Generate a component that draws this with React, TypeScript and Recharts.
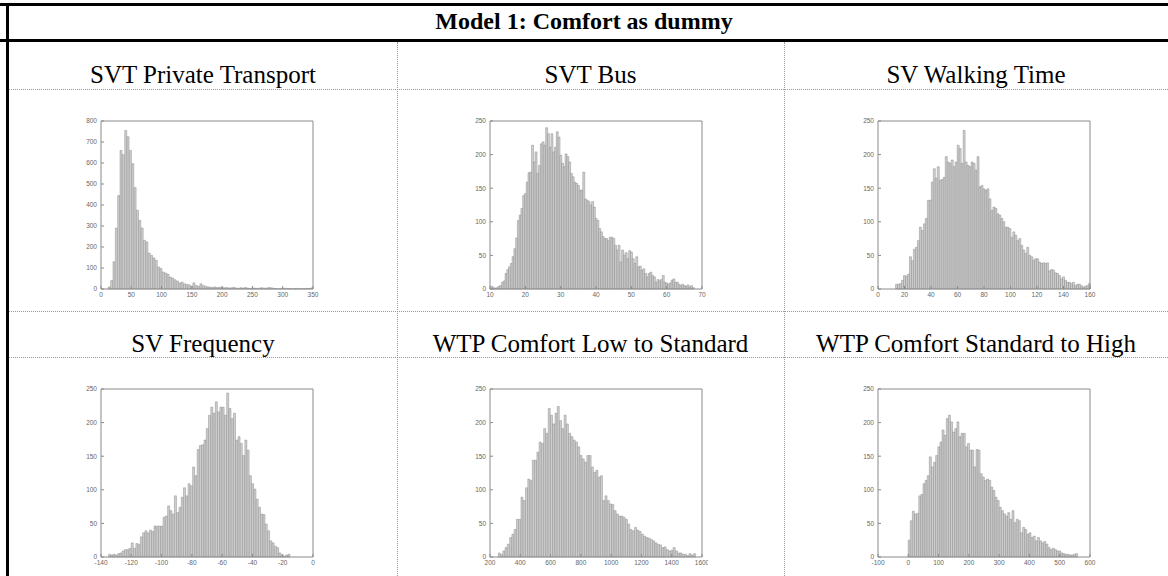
import React from 'react';
import { BarChart, Bar, XAxis, YAxis, ReferenceLine } from 'recharts';

// bin counts (bins are evenly spaced from *Start with width *Width)
const ptStart = 12;
const ptWidth = 3.88;
const ptCounts = [10, 40, 130, 290, 445, 660, 640, 755, 725, 660, 597, 483, 375, 327, 290, 232, 224, 171, 160, 148, 137, 105, 97, 81, 76, 70, 57, 52, 44, 38, 29, 33, 25, 22, 20, 14, 29, 17, 13, 25, 17, 13, 10, 9, 8, 10, 7, 8, 9, 6, 7, 5, 6, 8, 5, 4, 6, 5, 7, 4, 3, 5, 4, 3, 5, 6, 4, 5, 7, 6, 3, 2, 1, 3, 2, 4, 2, 3, 1, 2, 3, 2, 1, 2, 3, 2, 5];
const ptXTicks = [0, 50, 100, 150, 200, 250, 300, 350];
const ptYTicks = [0, 100, 200, 300, 400, 500, 600, 700, 800];

const busStart = 10.25;
const busWidth = 0.5;
const busCounts = [4, 2, 1, 2, 4, 5, 10, 12, 23, 29, 33, 38, 48, 60, 76, 102, 110, 120, 139, 142, 159, 173, 174, 214, 189, 204, 172, 184, 216, 219, 214, 240, 231, 211, 231, 204, 211, 234, 226, 199, 187, 182, 201, 197, 189, 172, 167, 159, 157, 154, 147, 147, 174, 134, 132, 130, 125, 130, 122, 105, 102, 90, 85, 78, 75, 75, 72, 77, 77, 75, 65, 58, 65, 40, 58, 50, 54, 45, 57, 55, 45, 38, 48, 33, 34, 28, 30, 23, 18, 23, 25, 20, 18, 10, 14, 12, 14, 20, 10, 9, 7, 9, 13, 15, 10, 10, 7, 5, 7, 5, 4, 6, 3, 5, 2];
const busXTicks = [10, 20, 30, 40, 50, 60, 70];
const busYTicks = [0, 50, 100, 150, 200, 250];

const walkStart = 13.25;
const walkWidth = 1.5;
const walkCounts = [7, 7, 8, 13, 20, 19, 22, 48, 42, 59, 62, 72, 92, 87, 97, 105, 132, 132, 159, 179, 165, 182, 162, 163, 166, 197, 189, 187, 192, 182, 189, 214, 209, 187, 236, 189, 184, 182, 189, 187, 177, 197, 152, 154, 149, 147, 149, 134, 117, 122, 120, 112, 110, 105, 100, 92, 92, 90, 77, 85, 80, 72, 75, 65, 58, 53, 62, 50, 48, 43, 45, 45, 40, 38, 39, 38, 39, 27, 29, 28, 24, 23, 20, 15, 18, 13, 10, 10, 8, 10, 5, 7, 7, 5, 3, 4, 5, 8];
const walkXTicks = [0, 20, 40, 60, 80, 100, 120, 140, 160];
const walkYTicks = [0, 50, 100, 150, 200, 250];

const freqStart = -135;
const freqWidth = 1.5;
const freqCounts = [4, 3, 4, 3, 5, 6, 9, 11, 11, 13, 21, 13, 20, 19, 30, 36, 39, 36, 40, 38, 46, 46, 46, 46, 59, 61, 76, 69, 64, 91, 66, 74, 89, 103, 91, 109, 106, 134, 121, 160, 166, 167, 174, 191, 211, 223, 214, 231, 216, 223, 223, 211, 244, 221, 206, 214, 174, 179, 169, 151, 174, 159, 121, 109, 101, 86, 74, 64, 63, 49, 39, 24, 21, 16, 14, 6, 3, 1, 3, 4];
const freqXTicks = [-140, -120, -100, -80, -60, -40, -20, 0];
const freqYTicks = [0, 50, 100, 150, 200, 250];

const lowStart = 254.5;
const lowWidth = 15;
const lowCounts = [6, 4, 9, 14, 19, 29, 34, 41, 56, 56, 89, 84, 103, 116, 114, 144, 144, 156, 171, 169, 191, 184, 221, 211, 198, 214, 224, 203, 191, 211, 198, 184, 179, 174, 171, 164, 151, 146, 141, 151, 151, 134, 126, 129, 119, 121, 84, 91, 84, 79, 78, 69, 64, 61, 61, 59, 56, 49, 41, 39, 44, 40, 38, 34, 31, 29, 28, 26, 24, 21, 19, 18, 14, 15, 11, 9, 10, 14, 9, 6, 6, 4, 4, 2, 5, 3, 5];
const lowXTicks = [200, 400, 600, 800, 1000, 1200, 1400, 1600];
const lowYTicks = [0, 50, 100, 150, 200, 250];

const highStart = -0.5;
const highWidth = 7;
const highCounts = [25, 54, 68, 64, 65, 91, 93, 109, 114, 121, 149, 134, 141, 151, 164, 171, 189, 181, 206, 211, 201, 186, 191, 201, 179, 184, 184, 164, 169, 159, 159, 134, 160, 159, 124, 119, 114, 116, 114, 104, 99, 89, 84, 74, 69, 64, 61, 66, 56, 69, 51, 56, 54, 36, 44, 41, 34, 36, 29, 31, 24, 29, 24, 21, 23, 19, 14, 11, 13, 11, 9, 9, 6, 5, 4, 4, 3, 3, 4, 5];
const highXTicks = [-100, 0, 100, 200, 300, 400, 500, 600];
const highYTicks = [0, 50, 100, 150, 200, 250];

const PLOT_W = 212;
const PLOT_H = 168;
const Y_AXIS_W = 30;
const X_AXIS_H = 14;
const M_TOP = 4;
const M_RIGHT = 6;
const FRAME = '#8a8a8a';

const tickStyle = { fontSize: 6.5, fill: '#666', fontFamily: '"Liberation Sans", Arial, sans-serif' };

type HistProps = {
  left: number;
  top: number;
  start: number;
  width: number;
  counts: number[];
  xTicks: number[];
  yTicks: number[];
};

function Histogram({ left, top, start, width, counts, xTicks, yTicks }: HistProps) {
  const data = counts.map((n, i) => ({ x: start + width * (i + 0.5), n }));
  const xDomain = [xTicks[0], xTicks[xTicks.length - 1]];
  const yDomain = [yTicks[0], yTicks[yTicks.length - 1]];
  return (
    <div style={{ position: 'absolute', left: left - Y_AXIS_W, top: top - M_TOP }}>
      <BarChart
        width={PLOT_W + Y_AXIS_W + M_RIGHT}
        height={PLOT_H + M_TOP + X_AXIS_H}
        data={data}
        margin={{ top: M_TOP, right: M_RIGHT, left: 0, bottom: 0 }}
        barCategoryGap={0}
        barGap={0}
      >
        <XAxis dataKey="x" type="number" domain={xDomain} ticks={xTicks} interval={0}
          height={X_AXIS_H} tickSize={-3} tickMargin={6} stroke={FRAME} tick={tickStyle} />
        <YAxis type="number" domain={yDomain} ticks={yTicks} interval={0}
          width={Y_AXIS_W} tickSize={-3} tickMargin={7} stroke={FRAME} tick={tickStyle} />
        <Bar dataKey="n" fill="#cfcfcf" stroke="#7a7a7a" strokeWidth={0.4} isAnimationActive={false} />
        {/* box around the axes, like the original plots */}
        <ReferenceLine y={yDomain[1]} stroke={FRAME} />
        <ReferenceLine x={xDomain[1]} stroke={FRAME} />
      </BarChart>
    </div>
  );
}

const headStyle: React.CSSProperties = {
  position: 'absolute',
  fontSize: 25,
  textAlign: 'center',
  whiteSpace: 'nowrap',
  lineHeight: '29px',
};

export default function App() {
  const colX = [9, 397, 784, 1168];
  return (
    <div style={{
      position: 'absolute', left: 0, top: 0, width: 1168, height: 576, background: '#fff',
      overflow: 'hidden', fontFamily: '"Liberation Serif", "Times New Roman", serif', color: '#000',
    }}>
      {/* table rules */}
      <div style={{ position: 'absolute', left: 0, top: 3, width: 1168, height: 3, background: '#000' }} />
      <div style={{ position: 'absolute', left: 0, top: 39, width: 1168, height: 3, background: '#000' }} />
      <div style={{ position: 'absolute', left: 6, top: 3, width: 3, height: 573, background: '#000' }} />
      <div style={{ position: 'absolute', left: 397, top: 42, height: 534, borderLeft: '1px dotted #999' }} />
      <div style={{ position: 'absolute', left: 784, top: 42, height: 534, borderLeft: '1px dotted #999' }} />
      <div style={{ position: 'absolute', left: 9, top: 89, width: 1159, borderTop: '1px dotted #999' }} />
      <div style={{ position: 'absolute', left: 9, top: 311, width: 1159, borderTop: '1px dotted #999' }} />
      <div style={{ position: 'absolute', left: 9, top: 357, width: 1159, borderTop: '1px dotted #999' }} />

      <div style={{ ...headStyle, left: 0, width: 1168, top: 7, fontSize: 24, fontWeight: 'bold' }}>
        Model 1: Comfort as dummy
      </div>

      <div style={{ ...headStyle, left: colX[0], width: colX[1] - colX[0], top: 60 }}>SVT Private Transport</div>
      <div style={{ ...headStyle, left: colX[1], width: colX[2] - colX[1], top: 60 }}>SVT Bus</div>
      <div style={{ ...headStyle, left: colX[2], width: colX[3] - colX[2], top: 60 }}>SV Walking Time</div>
      <div style={{ ...headStyle, left: colX[0], width: colX[1] - colX[0], top: 329 }}>SV Frequency</div>
      <div style={{ ...headStyle, left: colX[1], width: colX[2] - colX[1], top: 329 }}>WTP Comfort Low to Standard</div>
      <div style={{ ...headStyle, left: colX[2], width: colX[3] - colX[2], top: 329 }}>WTP Comfort Standard to High</div>

      <Histogram left={101} top={121} start={ptStart} width={ptWidth} counts={ptCounts} xTicks={ptXTicks} yTicks={ptYTicks} />
      <Histogram left={490} top={121} start={busStart} width={busWidth} counts={busCounts} xTicks={busXTicks} yTicks={busYTicks} />
      <Histogram left={878} top={121} start={walkStart} width={walkWidth} counts={walkCounts} xTicks={walkXTicks} yTicks={walkYTicks} />
      <Histogram left={101} top={389} start={freqStart} width={freqWidth} counts={freqCounts} xTicks={freqXTicks} yTicks={freqYTicks} />
      <Histogram left={490} top={389} start={lowStart} width={lowWidth} counts={lowCounts} xTicks={lowXTicks} yTicks={lowYTicks} />
      <Histogram left={878} top={389} start={highStart} width={highWidth} counts={highCounts} xTicks={highXTicks} yTicks={highYTicks} />
    </div>
  );
}
